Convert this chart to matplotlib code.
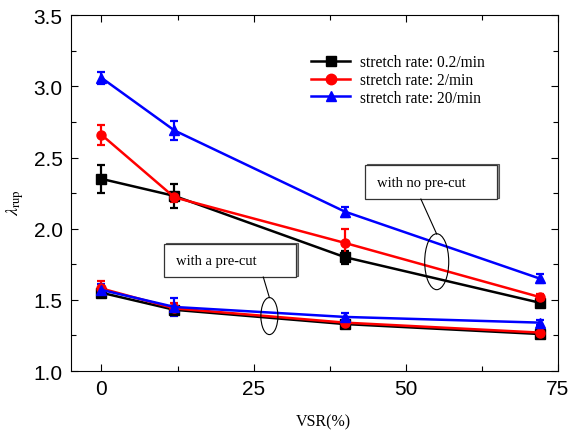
import numpy as np
import matplotlib
matplotlib.use("Agg")
import matplotlib.pyplot as plt
from matplotlib.patches import Ellipse, Rectangle
from matplotlib.lines import Line2D
from matplotlib.ticker import MultipleLocator

plt.rcParams['mathtext.fontset'] = 'stix'

# VSR (%) positions
vsr = [0, 12, 40, 72]

# samples with no pre-cut
nocut_02 = [2.35, 2.23, 1.80, 1.48]
nocut_02_err = [0.10, 0.085, 0.045, 0.02]
nocut_2 = [2.66, 2.22, 1.90, 1.52]
nocut_2_err = [0.07, 0.03, 0.095, 0.02]
nocut_20 = [3.06, 2.69, 2.12, 1.65]
nocut_20_err = [0.04, 0.065, 0.035, 0.03]

# samples with a pre-cut
cut_02 = [1.55, 1.43, 1.33, 1.26]
cut_02_err = [0.03, 0.03, 0.02, 0.015]
cut_2 = [1.58, 1.44, 1.34, 1.27]
cut_2_err = [0.05, 0.04, 0.02, 0.02]
cut_20 = [1.57, 1.45, 1.38, 1.34]
cut_20_err = [0.04, 0.06, 0.03, 0.02]

labels = ['stretch rate: 0.2/min', 'stretch rate: 2/min', 'stretch rate: 20/min']
colors = ['black', 'red', 'blue']
markers = ['s', 'o', '^']

fig = plt.figure(figsize=(5.7, 4.35), dpi=100)
ax = fig.add_axes([0.1246, 0.1448, 0.854, 0.818])

groups = [(nocut_02, nocut_02_err, cut_02, cut_02_err),
          (nocut_2, nocut_2_err, cut_2, cut_2_err),
          (nocut_20, nocut_20_err, cut_20, cut_20_err)]

handles = []
for (nc, nce, c, ce), col, mk, lab in zip(groups, colors, markers, labels):
    for yv, ye in [(nc, nce), (c, ce)]:
        ax.errorbar(vsr, yv, yerr=ye, color=col, marker=mk, markersize=6.5,
                    lw=1.8, capsize=3, capthick=1.6, elinewidth=1.6)
    handles.append(Line2D([], [], color=col, marker=mk, markersize=7.5, lw=1.8, label=lab))

ax.set_xlim(-5, 75)
ax.set_ylim(1.0, 3.5)
ax.xaxis.set_major_locator(MultipleLocator(25))
ax.xaxis.set_minor_locator(MultipleLocator(12.5))
ax.yaxis.set_major_locator(MultipleLocator(0.5))
ax.yaxis.set_minor_locator(MultipleLocator(0.25))
ax.tick_params(which='both', direction='in', top=True, right=True, width=0.8)
ax.tick_params(which='major', length=5, labelsize=15, pad=6)
ax.tick_params(which='minor', length=3.5)
for lbl in ax.get_xticklabels() + ax.get_yticklabels():
    lbl.set_family('Liberation Sans')
for sp in ax.spines.values():
    sp.set_linewidth(0.8)

leg = ax.legend(handles=handles, loc='upper left', bbox_to_anchor=(0.465, 0.93),
                frameon=False, handlelength=2.5, handletextpad=0.6,
                labelspacing=0.12, prop={'family': 'Liberation Serif', 'size': 11.2})

# annotation boxes with a 3D look
def box(ax, x0, y0, x1, y1, text, tx):
    ax.add_patch(Rectangle((x0 + 0.35, y0 + 0.008), x1 - x0, y1 - y0,
                           facecolor='#999999', edgecolor='#555555', lw=0.8, zorder=5))
    ax.add_patch(Rectangle((x0, y0), x1 - x0, y1 - y0,
                           facecolor='white', edgecolor='#333333', lw=0.9, zorder=6))
    ax.text(tx, (y0 + y1) / 2, text, family='Liberation Serif', fontsize=10.5,
            va='center', ha='left', zorder=7)

box(ax, 43.3, 2.208, 65.0, 2.447, 'with no pre-cut', 45.3)
ax.plot([52.5, 55.1], [2.208, 1.962], color='black', lw=0.8, zorder=6)
ax.add_patch(Ellipse((55.1, 1.768), 3.95, 0.393, fill=False, edgecolor='black', lw=0.8, zorder=6))

box(ax, 10.2, 1.660, 31.9, 1.892, 'with a pre-cut', 12.3)
ax.plot([26.6, 27.6], [1.660, 1.516], color='black', lw=0.8, zorder=6)
ax.add_patch(Ellipse((27.6, 1.386), 2.8, 0.26, fill=False, edgecolor='black', lw=0.8, zorder=6))

fig.text(15 / 570, 1 - 203 / 435, r'$\lambda_{\mathrm{rup}}$', rotation=90,
         ha='center', va='center', fontsize=13)
fig.text(323 / 570, 1 - 422 / 435, 'VSR(%)', family='Liberation Serif',
         fontsize=11.5, ha='center', va='center')

fig.savefig('out.png', dpi=100, facecolor='white')
